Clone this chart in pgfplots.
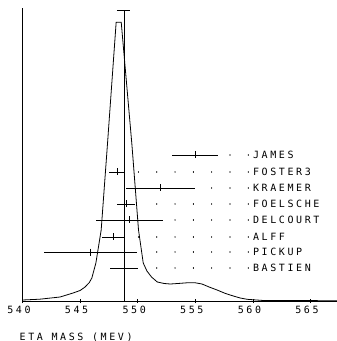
\documentclass[border=0pt]{standalone}
\usepackage{pgfplots}
\pgfplotsset{compat=1.18}
\usepackage{fontspec}
\setmainfont{DejaVu Sans Mono}[LetterSpace=26]
\newcommand\pf{\fontsize{10bp}{12bp}\selectfont}

\begin{document}
\begin{tikzpicture}
\begin{axis}[
  width=314.5bp, height=293bp, scale only axis,
  xmin=540, xmax=567.3, ymin=0, ymax=293,
  axis x line=bottom, axis y line=left,
  axis line style={-, line width=0.8pt},
  xtick={540,545,...,565}, ytick=\empty,
  tick align=center, major tick length=4bp,
  tick style={line width=0.6pt, black},
  xticklabel style={font=\pf, xshift=-3.5bp},
  /pgf/number format/assume math mode=true,
  xlabel={ETA MASS (MEV)},
  xlabel style={font=\pf, at={(axis description cs:0,0)}, anchor=north west, yshift=-31.5bp, xshift=-3bp, inner sep=0pt},
  clip=false,
]
% spectrum curve
\addplot[black, line width=0.8pt] coordinates {
(540.0,1) (541.5,1.8) (543.26,4) (544.39,8) (545.0,10.5) (545.43,14) (545.8,18.5) (546.02,23) (546.37,38) (546.83,71) (547.37,156) (548.13,278.7) (548.57,278.7) (549.50,156) (550.07,71) (550.48,38) (550.8,30) (551.2,24) (551.70,19) (552.3,17.5) (552.83,17) (553.6,17.6) (554.39,18.3) (555.0,18.2) (555.58,17) (556.2,14) (556.89,11) (557.6,7.6) (558.30,5) (558.9,3) (559.50,1.7) (560.91,0.5) (567.3,0.3)
};
% reference value line with cap
\addplot[black, line width=0.7pt] coordinates {(548.8,0) (548.8,291)};
\addplot[black, line width=0.7pt] coordinates {(548.2,291) (549.35,291)};
% measurements
\addplot[black, line width=0.7pt, only marks, mark=|, mark size=3.5bp,
  error bars/.cd, x dir=both, x explicit, error mark=none,
  error bar style={line width=0.7pt}] coordinates {
(555.0,146) +- (2.0,0)
(548.2,129) +- (0.7,0)
(552.0,113) +- (3.0,0)
(549.0,97) +- (0.8,0)
(549.3,81) +- (2.9,0)
(547.9,64) +- (1.0,0)
(545.9,49) +- (4.0,0)
(548.8,33) +- (1.2,0)
};
% dotted leaders
\addplot[black, line width=1.1bp, line cap=round, dash pattern=on 0.01bp off 18.3bp] coordinates {(559.6,146) (557.7,146)};
\addplot[black, line width=1.1bp, line cap=round, dash pattern=on 0.01bp off 18.3bp] coordinates {(559.6,129) (549.8,129)};
\addplot[black, line width=1.1bp, line cap=round, dash pattern=on 0.01bp off 18.3bp] coordinates {(559.6,113) (555.6,113)};
\addplot[black, line width=1.1bp, line cap=round, dash pattern=on 0.01bp off 18.3bp] coordinates {(559.6,97) (550.6,97)};
\addplot[black, line width=1.1bp, line cap=round, dash pattern=on 0.01bp off 18.3bp] coordinates {(559.6,81) (552.8,81)};
\addplot[black, line width=1.1bp, line cap=round, dash pattern=on 0.01bp off 18.3bp] coordinates {(559.6,64) (549.6,64)};
\addplot[black, line width=1.1bp, line cap=round, dash pattern=on 0.01bp off 18.3bp] coordinates {(559.6,49) (550.6,49)};
\addplot[black, line width=1.1bp, line cap=round, dash pattern=on 0.01bp off 18.3bp] coordinates {(559.6,33) (550.8,33)};
% labels
\node[font=\pf, anchor=base west, inner sep=0pt, yshift=-3.65bp] at (axis cs:560.0,146) {JAMES};
\node[font=\pf, anchor=base west, inner sep=0pt, yshift=-3.65bp] at (axis cs:560.0,129) {FOSTER3};
\node[font=\pf, anchor=base west, inner sep=0pt, yshift=-3.65bp] at (axis cs:560.0,113) {KRAEMER};
\node[font=\pf, anchor=base west, inner sep=0pt, yshift=-3.65bp] at (axis cs:560.0,97) {FOELSCHE};
\node[font=\pf, anchor=base west, inner sep=0pt, yshift=-3.65bp] at (axis cs:560.0,81) {DELCOURT};
\node[font=\pf, anchor=base west, inner sep=0pt, yshift=-3.65bp] at (axis cs:560.0,64) {ALFF};
\node[font=\pf, anchor=base west, inner sep=0pt, yshift=-3.65bp] at (axis cs:560.0,49) {PICKUP};
\node[font=\pf, anchor=base west, inner sep=0pt, yshift=-3.65bp] at (axis cs:560.0,33) {BASTIEN};
\end{axis}
\pgfresetboundingbox
\path (current axis.south west) ++(-22.5bp,-40bp) rectangle ++(337bp,341bp);
\end{tikzpicture}
\end{document}
